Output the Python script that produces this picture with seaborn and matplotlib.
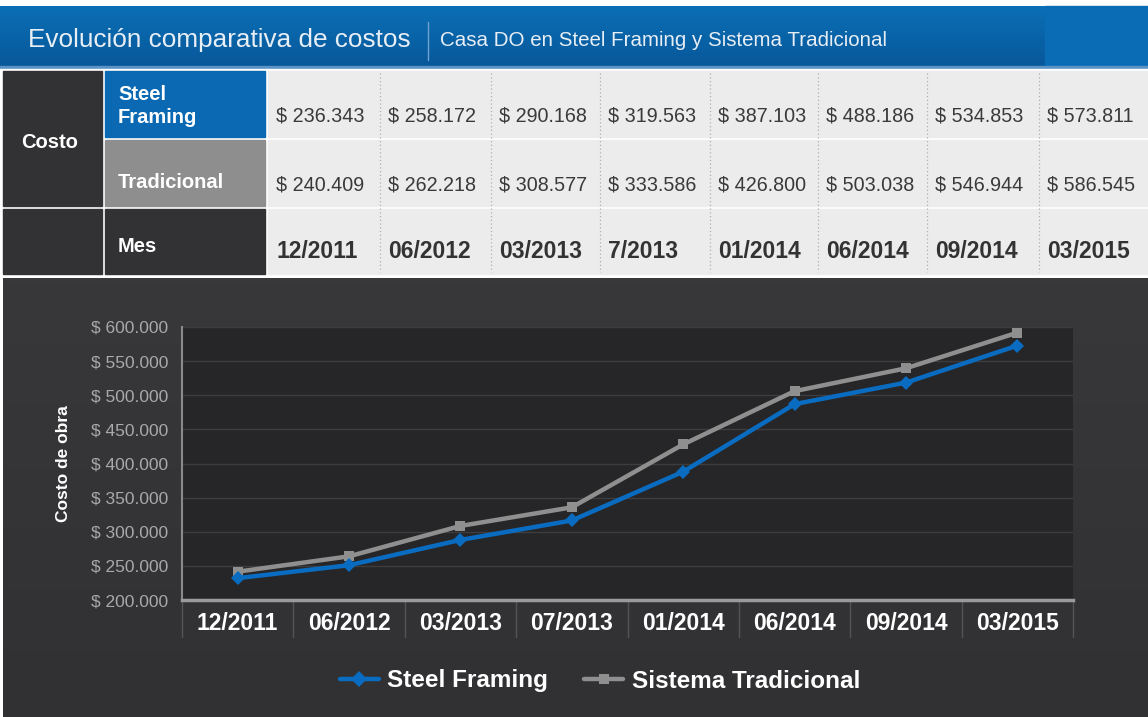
import numpy as np
import pandas as pd
import matplotlib
matplotlib.use("Agg")
import matplotlib.pyplot as plt
import seaborn as sns
from matplotlib import font_manager
from matplotlib.patches import Rectangle
from matplotlib.lines import Line2D
from matplotlib.colors import LinearSegmentedColormap

# ---------------- data ----------------
table_months = ["12/2011", "06/2012", "03/2013", "7/2013", "01/2014", "06/2014", "09/2014", "03/2015"]
table_steel = ["$ 236.343", "$ 258.172", "$ 290.168", "$ 319.563", "$ 387.103", "$ 488.186", "$ 534.853", "$ 573.811"]
table_trad = ["$ 240.409", "$ 262.218", "$ 308.577", "$ 333.586", "$ 426.800", "$ 503.038", "$ 546.944", "$ 586.545"]

chart_months = ["12/2011", "06/2012", "03/2013", "07/2013", "01/2014", "06/2014", "09/2014", "03/2015"]
steel_values = [232000, 251000, 288000, 316500, 388000, 487000, 518500, 572700]
trad_values = [241500, 264000, 308500, 335800, 428000, 506000, 539500, 591700]
series_names = ["Steel Framing", "Sistema Tradicional"]
y_ticks = [200000, 250000, 300000, 350000, 400000, 450000, 500000, 550000, 600000]

# ---------------- style ----------------
sns.set_theme(style="dark")
names = {f.name for f in font_manager.fontManager.ttflist}
narrow = "Liberation Sans Narrow" if "Liberation Sans Narrow" in names else "Liberation Sans"
plt.rcParams["font.family"] = ["Liberation Sans", "DejaVu Sans"]
FAM = [narrow, "DejaVu Sans"]

BLUE = "#0a69b2"
GREY = "#8e8e8e"
DARK = "#323234"
PLOT_BG = "#262628"
CELL = "#ececec"

W, H = 1148, 717
fig = plt.figure(figsize=(W / 100, H / 100), dpi=100)
fig.patch.set_facecolor("white")

bg = fig.add_axes([0, 0, 1, 1])
bg.set_xlim(0, W)
bg.set_ylim(H, 0)
bg.axis("off")

# title bar with gradient
grad = np.linspace(0, 1, 100).reshape(-1, 1)
cm = LinearSegmentedColormap.from_list("tb", ["#0b6fb6", "#07589a"])
bg.imshow(grad, cmap=cm, extent=[0, 1045, 66, 6], aspect="auto", zorder=1)
bg.add_patch(Rectangle((1045, 6), W - 1045, 60, color="#0a6cb5", zorder=1))
bg.add_patch(Rectangle((0, 66), W, 3, color="#5b93c6", zorder=1))
bg.text(28, 40, "Evolución comparativa de costos", color="#e8eef5", fontsize=18.8,
        family=FAM, va="center", ha="left", zorder=3)
bg.plot([428, 428], [22, 60], color="#6fa3d2", lw=1, zorder=3)
bg.text(440, 41, "Casa DO en Steel Framing y Sistema Tradicional", color="#e8eef5", fontsize=14.8,
        family=FAM, va="center", ha="left", zorder=3)

# table
bg.add_patch(Rectangle((0, 69), W, 208, color="white", zorder=1))
bg.add_patch(Rectangle((3, 71), 99, 135, color=DARK, zorder=2))
bg.add_patch(Rectangle((3, 209), 99, 65, color=DARK, zorder=2))
bg.add_patch(Rectangle((105, 71), 160, 66, color=BLUE, zorder=2))
bg.add_patch(Rectangle((105, 140), 160, 66, color=GREY, zorder=2))
bg.add_patch(Rectangle((105, 209), 160, 65, color=DARK, zorder=2))
for y0, h in [(71, 66), (140, 66), (209, 65)]:
    bg.add_patch(Rectangle((268, y0), W - 268, h, color=CELL, zorder=2))

bg.text(50, 143, "Costo", color="white", fontsize=14.5, fontweight="bold", ha="center", va="center", zorder=3)
bg.text(118, 106, "Steel\nFraming", color="white", fontsize=14.5, fontweight="bold", ha="left",
        va="center", linespacing=1.25, zorder=3)
bg.text(118, 182, "Tradicional", color="white", fontsize=14.5, fontweight="bold", ha="left", va="center", zorder=3)
bg.text(118, 246, "Mes", color="white", fontsize=14.5, fontweight="bold", ha="left", va="center", zorder=3)

col_edges = [268, 380, 491, 600, 710, 818, 927, 1039, 1148]
for i in range(len(table_months)):
    x0 = col_edges[i]
    if i > 0:
        bg.plot([x0, x0], [73, 272], color="#b0b0b0", lw=0.9, ls=(0, (1, 2)), zorder=3)
    bg.text(x0 + 8, 116, table_steel[i], color="#3a3a3a", fontsize=14.2,
            family=FAM, ha="left", va="center", zorder=3)
    bg.text(x0 + 8, 185, table_trad[i], color="#3a3a3a", fontsize=14.2,
            family=FAM, ha="left", va="center", zorder=3)
    bg.text(x0 + 8, 251, table_months[i], color="#333333", fontsize=16.5,
            fontweight="bold", ha="left", va="center", zorder=3)

# chart panel
pgrad = np.linspace(0, 1, 100).reshape(-1, 1)
pcm = LinearSegmentedColormap.from_list("pn", ["#38383a", "#313133"])
bg.imshow(pgrad, cmap=pcm, extent=[3, W, H, 278], aspect="auto", zorder=1)

# ---------------- line chart ----------------
L, R, T, B = 182, 1073, 327, 600
ax = fig.add_axes([L / W, 1 - B / H, (R - L) / W, (B - T) / H])
ax.set_facecolor(PLOT_BG)

df = pd.DataFrame({
    "x": list(range(len(chart_months))) * 2,
    "valor": steel_values + trad_values,
    "serie": [series_names[0]] * len(chart_months) + [series_names[1]] * len(chart_months),
})
palette = {series_names[0]: "#0a6cc0", series_names[1]: "#8f8f8f"}
markers = {series_names[0]: "D", series_names[1]: "s"}
sns.lineplot(data=df, x="x", y="valor", hue="serie", style="serie", palette=palette,
             markers=markers, dashes=False, linewidth=3.2, markersize=7,
             markeredgewidth=0, ax=ax, legend=False, zorder=5, hue_order=series_names[::-1])

ax.set_xlim(-0.5, len(chart_months) - 0.5)
ax.set_ylim(y_ticks[0], y_ticks[-1])
ax.set_yticks(y_ticks)
ax.set_yticklabels(["$ " + f"{v:,}".replace(",", ".") for v in y_ticks],
                   color="#a9a9ab", fontsize=12.5, family=FAM)
ax.yaxis.grid(True, color="#3d3d3f", lw=1)
ax.xaxis.grid(False)
ax.tick_params(axis="y", length=0, pad=10)
ax.set_xticks(range(len(chart_months)))
ax.set_xticklabels(chart_months, color="white", fontsize=16.5, fontweight="bold", family=FAM)
ax.tick_params(axis="x", length=0, pad=9)
ax.set_xlabel("")
ax.set_ylabel("Costo de obra", color="white", fontsize=12.5, fontweight="bold", labelpad=14)
for s in ["top", "right"]:
    ax.spines[s].set_visible(False)
ax.spines["left"].set_color("#8a8a8a")
ax.spines["left"].set_linewidth(1.5)
ax.spines["bottom"].set_color("#9a9a9a")
ax.spines["bottom"].set_linewidth(2.5)

# separators below the x axis
for k in range(len(chart_months) + 1):
    xb = L + k * (R - L) / len(chart_months)
    bg.plot([xb, xb], [601, 637], color="#555557", lw=1, zorder=3)

# legend
handles = [
    Line2D([], [], color="#0a6cc0", lw=3.2, marker="D", markersize=8, markeredgewidth=0),
    Line2D([], [], color="#8f8f8f", lw=3.2, marker="s", markersize=7, markeredgewidth=0),
]
leg = fig.legend(handles, series_names, loc="center", bbox_to_anchor=(600 / W, 1 - 681 / H),
                 ncol=2, frameon=False, handlelength=1.6, columnspacing=1.5, handletextpad=0.35,
                 prop={"weight": "bold", "size": 17.5, "family": FAM})
for t in leg.get_texts():
    t.set_color("white")

fig.savefig("out.png", dpi=100, facecolor=fig.get_facecolor())
